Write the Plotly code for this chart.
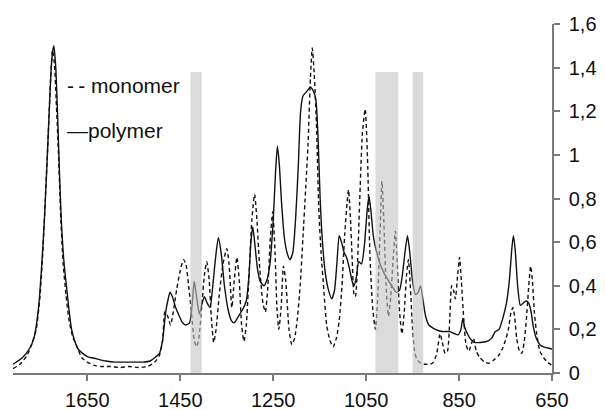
import plotly.graph_objects as go

# ---- data ----
polymer_wn = [1810, 1790, 1775, 1765, 1755, 1748, 1742, 1736, 1730, 1726, 1722, 1718, 1714, 1710, 1706, 1700,
              1695, 1690, 1684, 1676, 1670, 1660, 1650, 1630, 1610, 1590, 1570, 1550, 1530, 1515, 1505, 1495,
              1488, 1482, 1477, 1472, 1467, 1460, 1452, 1445, 1438, 1430, 1425, 1420, 1415, 1409, 1403, 1398,
              1392, 1386, 1380, 1374, 1368, 1362, 1355, 1347, 1340, 1334, 1325, 1316, 1308, 1302, 1298, 1294,
              1290, 1284, 1278, 1270, 1263, 1257, 1250, 1245, 1241, 1237, 1232, 1226, 1220, 1214, 1208, 1202,
              1196, 1191, 1186, 1178, 1170, 1163, 1158, 1153, 1149, 1144, 1138, 1131, 1124, 1118, 1113, 1108,
              1103, 1097, 1092, 1086, 1080, 1076, 1071, 1066, 1060, 1054, 1048, 1044, 1040, 1034, 1028, 1020,
              1012, 1004, 995, 985, 978, 972, 966, 961, 956, 950, 944, 938, 933, 928, 922, 915, 905, 895, 885,
              870, 860, 852, 846, 842, 838, 832, 825, 818, 805, 790, 780, 772, 764, 756, 748, 742, 736, 733,
              729, 724, 718, 712, 706, 700, 695, 690, 684, 676, 668, 660, 650]
polymer_abs = [0.04, 0.07, 0.11, 0.16, 0.30, 0.50, 0.72, 1.00, 1.30, 1.45, 1.50, 1.40, 1.18, 0.92, 0.70, 0.50,
               0.40, 0.30, 0.20, 0.14, 0.11, 0.09, 0.075, 0.065, 0.055, 0.05, 0.05, 0.05, 0.05, 0.055, 0.07, 0.09,
               0.15, 0.27, 0.33, 0.37, 0.35, 0.30, 0.26, 0.23, 0.22, 0.23, 0.30, 0.42, 0.35, 0.27, 0.32, 0.35,
               0.32, 0.30, 0.40, 0.53, 0.62, 0.55, 0.40, 0.29, 0.24, 0.23, 0.26, 0.29, 0.33, 0.45, 0.60, 0.67,
               0.60, 0.48, 0.42, 0.40, 0.43, 0.50, 0.70, 0.92, 1.04, 0.96, 0.78, 0.62, 0.55, 0.52, 0.55, 0.70,
               0.95, 1.20, 1.27, 1.29, 1.31, 1.29, 1.25, 1.05, 0.80, 0.60, 0.46, 0.38, 0.34, 0.38, 0.50, 0.63,
               0.60, 0.55, 0.53, 0.48, 0.42, 0.40, 0.44, 0.51, 0.50, 0.58, 0.74, 0.81, 0.75, 0.62, 0.56, 0.50,
               0.46, 0.43, 0.40, 0.37, 0.38, 0.45, 0.56, 0.63, 0.55, 0.42, 0.36, 0.37, 0.40, 0.34, 0.26, 0.22,
               0.205, 0.195, 0.19, 0.19, 0.18, 0.175, 0.20, 0.25, 0.21, 0.18, 0.155, 0.14, 0.14, 0.145, 0.16,
               0.19, 0.20, 0.25, 0.32, 0.42, 0.58, 0.63, 0.56, 0.40, 0.31, 0.32, 0.33, 0.32, 0.28, 0.21, 0.16,
               0.13, 0.12, 0.115, 0.11]

monomer_wn = [1810, 1795, 1780, 1770, 1760, 1752, 1746, 1740, 1734, 1729, 1725, 1721, 1717, 1712, 1707, 1702,
              1696, 1690, 1682, 1672, 1662, 1650, 1635, 1620, 1600, 1580, 1560, 1540, 1520, 1505, 1495, 1488,
              1483, 1477, 1471, 1465, 1458, 1450, 1443, 1438, 1432, 1426, 1420, 1415, 1410, 1404, 1398, 1393,
              1388, 1383, 1378, 1373, 1366, 1358, 1350, 1345, 1339, 1334, 1328, 1323, 1318, 1313, 1308, 1302,
              1296, 1290, 1285, 1279, 1272, 1267, 1262, 1256, 1251, 1246, 1242, 1238, 1233, 1228, 1223, 1216,
              1210, 1204, 1198, 1192, 1186, 1180, 1175, 1170, 1166, 1162, 1157, 1152, 1147, 1141, 1135, 1128,
              1121, 1114, 1108, 1102, 1096, 1091, 1088, 1084, 1080, 1076, 1073, 1069, 1064, 1058, 1052, 1047,
              1042, 1036, 1030, 1025, 1020, 1016, 1012, 1007, 1002, 997, 992, 987, 983, 978, 973, 968, 963,
              959, 955, 950, 945, 940, 932, 923, 912, 905, 898, 891, 886, 880, 875, 870, 866, 862, 858, 853,
              849, 845, 840, 835, 829, 824, 819, 813, 805, 795, 785, 775, 765, 757, 750, 744, 738, 734, 730,
              726, 720, 715, 710, 705, 700, 696, 692, 688, 683, 676, 668, 660, 650]
monomer_abs = [0.02, 0.04, 0.08, 0.13, 0.20, 0.35, 0.55, 0.82, 1.10, 1.35, 1.48, 1.42, 1.25, 1.00, 0.70, 0.50,
               0.36, 0.25, 0.17, 0.12, 0.07, 0.05, 0.035, 0.03, 0.03, 0.025, 0.03, 0.025, 0.03, 0.05, 0.08, 0.15,
               0.28, 0.26, 0.22, 0.28, 0.38, 0.47, 0.52, 0.50, 0.40, 0.28, 0.15, 0.12, 0.16, 0.30, 0.45, 0.51,
               0.43, 0.25, 0.14, 0.20, 0.36, 0.50, 0.57, 0.50, 0.30, 0.42, 0.53, 0.42, 0.22, 0.145, 0.22, 0.45,
               0.70, 0.82, 0.70, 0.48, 0.32, 0.28, 0.38, 0.62, 0.74, 0.55, 0.30, 0.20, 0.30, 0.49, 0.42, 0.20,
               0.13, 0.16, 0.25, 0.40, 0.62, 0.85, 1.05, 1.35, 1.49, 1.38, 1.15, 0.76, 0.55, 0.38, 0.22, 0.15,
               0.12, 0.16, 0.24, 0.40, 0.64, 0.78, 0.84, 0.72, 0.52, 0.36, 0.35, 0.48, 0.78, 1.10, 1.21, 0.98,
               0.55, 0.30, 0.20, 0.35, 0.65, 0.88, 0.70, 0.40, 0.26, 0.35, 0.52, 0.65, 0.50, 0.28, 0.18, 0.28,
               0.45, 0.52, 0.40, 0.20, 0.09, 0.06, 0.045, 0.04, 0.04, 0.05, 0.09, 0.18, 0.14, 0.09, 0.10, 0.25,
               0.40, 0.38, 0.34, 0.45, 0.53, 0.42, 0.25, 0.13, 0.10, 0.13, 0.16, 0.10, 0.07, 0.05, 0.045, 0.06,
               0.08, 0.11, 0.15, 0.20, 0.28, 0.30, 0.25, 0.16, 0.10, 0.09, 0.14, 0.25, 0.40, 0.49, 0.42, 0.28,
               0.18, 0.10, 0.07, 0.05, 0.035]

band_start = [1428, 1030, 950]
band_end = [1404, 981, 927]
band_top = 1.38

x_ticks = [1650, 1450, 1250, 1050, 850, 650]
y_ticks = [0, 0.2, 0.4, 0.6, 0.8, 1.0, 1.2, 1.4, 1.6]

FONT = "Liberation Sans, Arial, sans-serif"
INK = "#111111"
AXIS = "#7a7a7a"

fig = go.Figure()
fig.add_trace(go.Scatter(x=monomer_wn, y=monomer_abs, mode="lines", name="monomer",
                         line=dict(color=INK, width=1.4, dash="4px,3px", shape="spline", smoothing=0.6),
                         showlegend=False))
fig.add_trace(go.Scatter(x=polymer_wn, y=polymer_abs, mode="lines", name="polymer",
                         line=dict(color=INK, width=1.4, shape="spline", smoothing=0.6),
                         showlegend=False))

for a, b in zip(band_start, band_end):
    fig.add_shape(type="rect", xref="x", yref="y", x0=a, x1=b, y0=0, y1=band_top,
                  fillcolor="rgb(195,195,195)", opacity=0.6, line=dict(width=0), layer="above")

fig.add_annotation(xref="paper", yref="paper", x=0.097, y=0.824, xanchor="left", yanchor="middle",
                   text="-\u2009- monomer", showarrow=False, font=dict(family=FONT, size=21, color=INK))
fig.add_annotation(xref="paper", yref="paper", x=0.097, y=0.694, xanchor="left", yanchor="middle",
                   text="\u2014polymer", showarrow=False, font=dict(family=FONT, size=21, color=INK))

# the page body adds an 8px offset; margins compensate so the plot lands where the reference has it
fig.update_layout(
    width=605, height=410,
    margin=dict(l=5, r=61, t=16, b=45, autoexpand=False),
    paper_bgcolor="white", plot_bgcolor="white",
    separators=",.",
    font=dict(family=FONT, size=20, color=INK),
    showlegend=False,
)
fig.update_xaxes(range=[1810, 650], tickvals=x_ticks, showgrid=False, zeroline=False, automargin=False,
                 showline=True, linecolor=AXIS, linewidth=1.5, ticks="outside", ticklen=6,
                 tickcolor=AXIS, tickwidth=1.5, ticklabelstandoff=2, tickfont=dict(size=20, color=INK))
fig.update_yaxes(range=[0, 1.6], tickvals=y_ticks, side="right", showgrid=False, zeroline=False,
                 automargin=False,
                 showline=True, linecolor=AXIS, linewidth=1.5, ticks="outside", ticklen=6,
                 tickcolor=AXIS, tickwidth=1.5, ticklabelstandoff=5, tickfont=dict(size=20, color=INK))

fig.write_html("out.html")
